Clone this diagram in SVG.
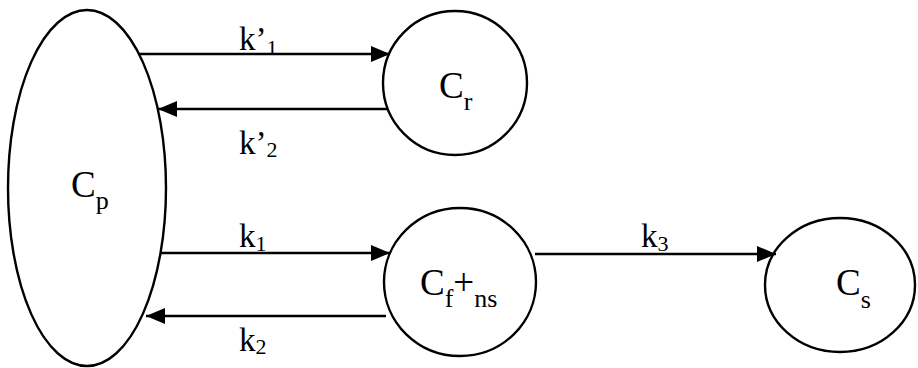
<svg xmlns="http://www.w3.org/2000/svg" width="918" height="368" viewBox="0 0 918 368">
<defs>
<style>
.node{fill:none;stroke:#000;stroke-width:2.4}
.edge{fill:none;stroke:#000;stroke-width:2.4}
text{font-family:"Liberation Serif","Times New Roman",serif;fill:#000}
.big{font-size:37px}
.lab{font-size:33px}
.sub{font-size:26px}
.ksub{font-size:22px}
</style>
<marker id="ah" markerWidth="19" markerHeight="16" refX="19" refY="8" orient="auto" markerUnits="userSpaceOnUse">
<path d="M0,0 L19,8 L0,16 Z" fill="#000"/>
</marker>
</defs>
<rect width="918" height="368" fill="#fff"/>
<g id="connectors">
<line class="edge" x1="139" y1="54" x2="390" y2="54" marker-end="url(#ah)"/>
<line class="edge" x1="387" y1="109" x2="158" y2="109" marker-end="url(#ah)"/>
<line class="edge" x1="161" y1="253" x2="390" y2="253" marker-end="url(#ah)"/>
<line class="edge" x1="386" y1="316" x2="146" y2="316" marker-end="url(#ah)"/>
<line class="edge" x1="535" y1="254" x2="776" y2="254" marker-end="url(#ah)"/>
<text class="lab" x="239" y="50">k’<tspan class="ksub" dy="5">1</tspan></text>
<text class="lab" x="239" y="154">k’<tspan class="ksub" dy="3">2</tspan></text>
<text class="lab" x="239" y="247">k<tspan class="ksub" dy="4">1</tspan></text>
<text class="lab" x="239" y="351">k<tspan class="ksub" dy="3">2</tspan></text>
<text class="lab" x="641" y="247">k<tspan class="ksub" dy="4">3</tspan></text>
</g>
<g id="Cp">
<ellipse class="node" cx="87" cy="188" rx="79" ry="178"/>
<text class="big" x="71" y="197">C<tspan class="sub" dy="12">p</tspan></text>
</g>
<g id="Cr">
<circle class="node" cx="455" cy="83" r="72"/>
<text class="big" x="439" y="98">C<tspan class="sub" dy="12">r</tspan></text>
</g>
<g id="Cfns">
<ellipse class="node" cx="460" cy="282" rx="76" ry="74"/>
<text class="big" x="420" y="295">C<tspan class="sub" dy="12">f</tspan><tspan dy="-12">+</tspan><tspan class="sub" dy="12">ns</tspan></text>
</g>
<g id="Cs">
<ellipse class="node" cx="840" cy="285" rx="75" ry="67"/>
<text class="big" x="836" y="295">C<tspan class="sub" dy="13">s</tspan></text>
</g>
</svg>
